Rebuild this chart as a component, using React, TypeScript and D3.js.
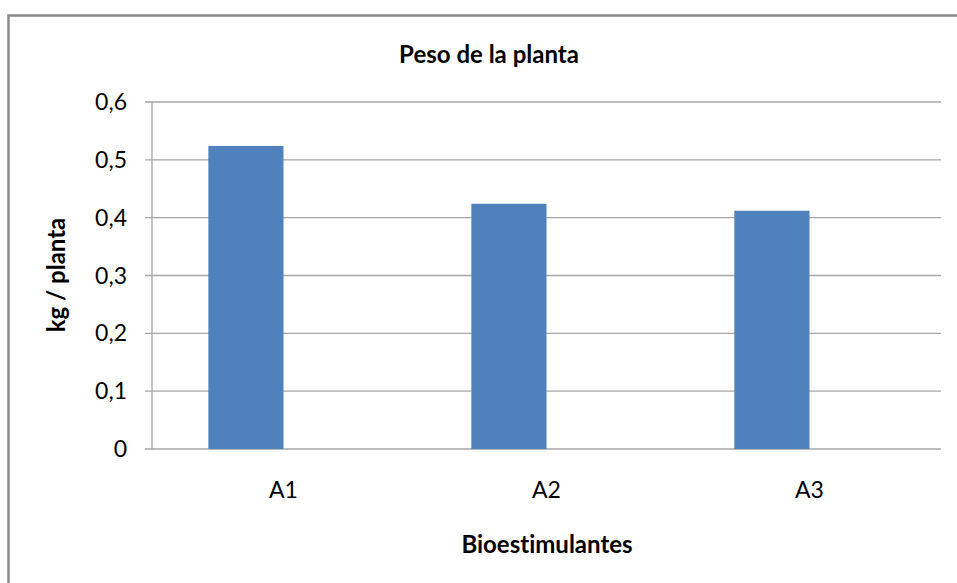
import React from "react";
import * as d3 from "d3";

// Categories and values
const categories = ["A1", "A2", "A3"];
const pesoValues = [0.524, 0.424, 0.412];
// Two slots per category: the weight series and an empty companion slot
const seriesSlots = ["Peso", "Vacío"];
const yTicks = [0, 0.1, 0.2, 0.3, 0.4, 0.5, 0.6];
const yTickLabels = ["0", "0,1", "0,2", "0,3", "0,4", "0,5", "0,6"];

const W = 957;
const H = 583;
const plot = { left: 152, right: 941, top: 102, bottom: 449 };
const FONT = "Lato, 'Open Sans', sans-serif";
const textStyle = { fontVariantLigatures: "none" } as React.CSSProperties;

export default function App() {
  const x0 = d3.scaleBand<string>().domain(categories).range([plot.left, plot.right]).padding(0);
  const x1 = d3
    .scaleBand<string>()
    .domain(seriesSlots)
    .range([0, x0.bandwidth()])
    .paddingInner(0)
    .paddingOuter(0.75);
  const y = d3.scaleLinear().domain([0, 0.6]).range([plot.bottom, plot.top]);

  const gridColor = "#a6a6a6";

  return (
    <svg
      width={W}
      height={H}
      style={{ position: "absolute", left: 0, top: 0, background: "#fff", overflow: "hidden" }}
    >
      {/* chart frame (left and top edges fall inside the view) */}
      <path d={`M8.5,${H} V15.5 H${W}`} fill="none" stroke="#8a8a8a" strokeWidth={2.5} />

      {/* title */}
      <text x={489} y={63} textAnchor="middle" fontFamily={FONT} fontWeight="bold" fontSize={24} fill="#000" style={textStyle}>
        Peso de la planta
      </text>

      {/* horizontal gridlines */}
      {yTicks.map((t) => (
        <line
          key={"g" + t}
          x1={plot.left - 7}
          x2={plot.right}
          y1={y(t)}
          y2={y(t)}
          stroke={gridColor}
          strokeWidth={1.3}
        />
      ))}

      {/* y axis line */}
      <line x1={plot.left} x2={plot.left} y1={plot.top} y2={plot.bottom} stroke={gridColor} strokeWidth={1.3} />

      {/* bars */}
      {categories.map((c, i) => (
        <rect
          key={c}
          x={(x0(c) ?? 0) + (x1("Peso") ?? 0)}
          y={y(pesoValues[i])}
          width={x1.bandwidth()}
          height={y(0) - y(pesoValues[i])}
          fill="#4f81bd"
        />
      ))}

      {/* y tick labels */}
      {yTicks.map((t, i) => (
        <text
          key={"yl" + t}
          x={127}
          y={y(t)}
          dy="0.35em"
          textAnchor="end"
          fontFamily={FONT}
          fontSize={23}
          fill="#000"
        >
          {yTickLabels[i]}
        </text>
      ))}

      {/* category labels */}
      {categories.map((c) => (
        <text
          key={"xl" + c}
          x={(x0(c) ?? 0) + x0.bandwidth() / 2}
          y={498}
          textAnchor="middle"
          fontFamily={FONT}
          fontSize={23}
          fill="#000"
        >
          {c}
        </text>
      ))}

      {/* axis titles */}
      <text x={547} y={553} textAnchor="middle" fontFamily={FONT} fontWeight="bold" fontSize={24} fill="#000" style={textStyle}>
        Bioestimulantes
      </text>
      <text
        transform={`translate(65, 275) rotate(-90)`}
        textAnchor="middle"
        fontFamily={FONT}
        fontWeight="bold"
        fontSize={24}
        fill="#000"
        style={textStyle}
      >
        kg / planta
      </text>
    </svg>
  );
}
